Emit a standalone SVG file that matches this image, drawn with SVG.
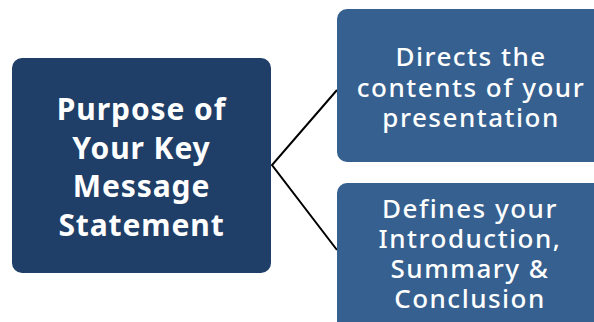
<svg xmlns="http://www.w3.org/2000/svg" width="594" height="322" viewBox="0 0 594 322">
<style>
.main{fill:#1f3f68}
.sub{fill:#36608f}
.t{fill:#ffffff;font-family:"Noto Sans","DejaVu Sans",sans-serif;text-anchor:middle;font-variant-ligatures:none}
.tb{font-weight:700;font-size:30px;letter-spacing:0.9px}
.tr{font-weight:500;font-size:26px;letter-spacing:1.5px}
.conn{stroke:#000;stroke-width:2;fill:none}
</style>
<rect width="594" height="322" fill="#ffffff"/>
<g id="connectors">
<polyline class="conn" points="337,90 272,165 337,250"/>
</g>
<g id="node-main">
<rect class="main" x="12" y="58" width="259" height="215" rx="10"/>
<text class="t tb"><tspan x="141.5" y="120">Purpose of</tspan><tspan x="141.5" y="159">Your Key</tspan><tspan x="141.5" y="197">Message</tspan><tspan x="141.5" y="236">Statement</tspan></text>
</g>
<g id="node-directs">
<rect class="sub" x="337" y="9" width="280" height="153" rx="10"/>
<text class="t tr"><tspan x="471" y="66">Directs the</tspan><tspan x="471" y="97">contents of your</tspan><tspan x="471" y="127">presentation</tspan></text>
</g>
<g id="node-defines">
<rect class="sub" x="337" y="183" width="280" height="160" rx="10"/>
<text class="t tr"><tspan x="470" y="218">Defines your</tspan><tspan x="470" y="248">Introduction,</tspan><tspan x="470" y="278">Summary &amp;</tspan><tspan x="470" y="308">Conclusion</tspan></text>
</g>
</svg>
